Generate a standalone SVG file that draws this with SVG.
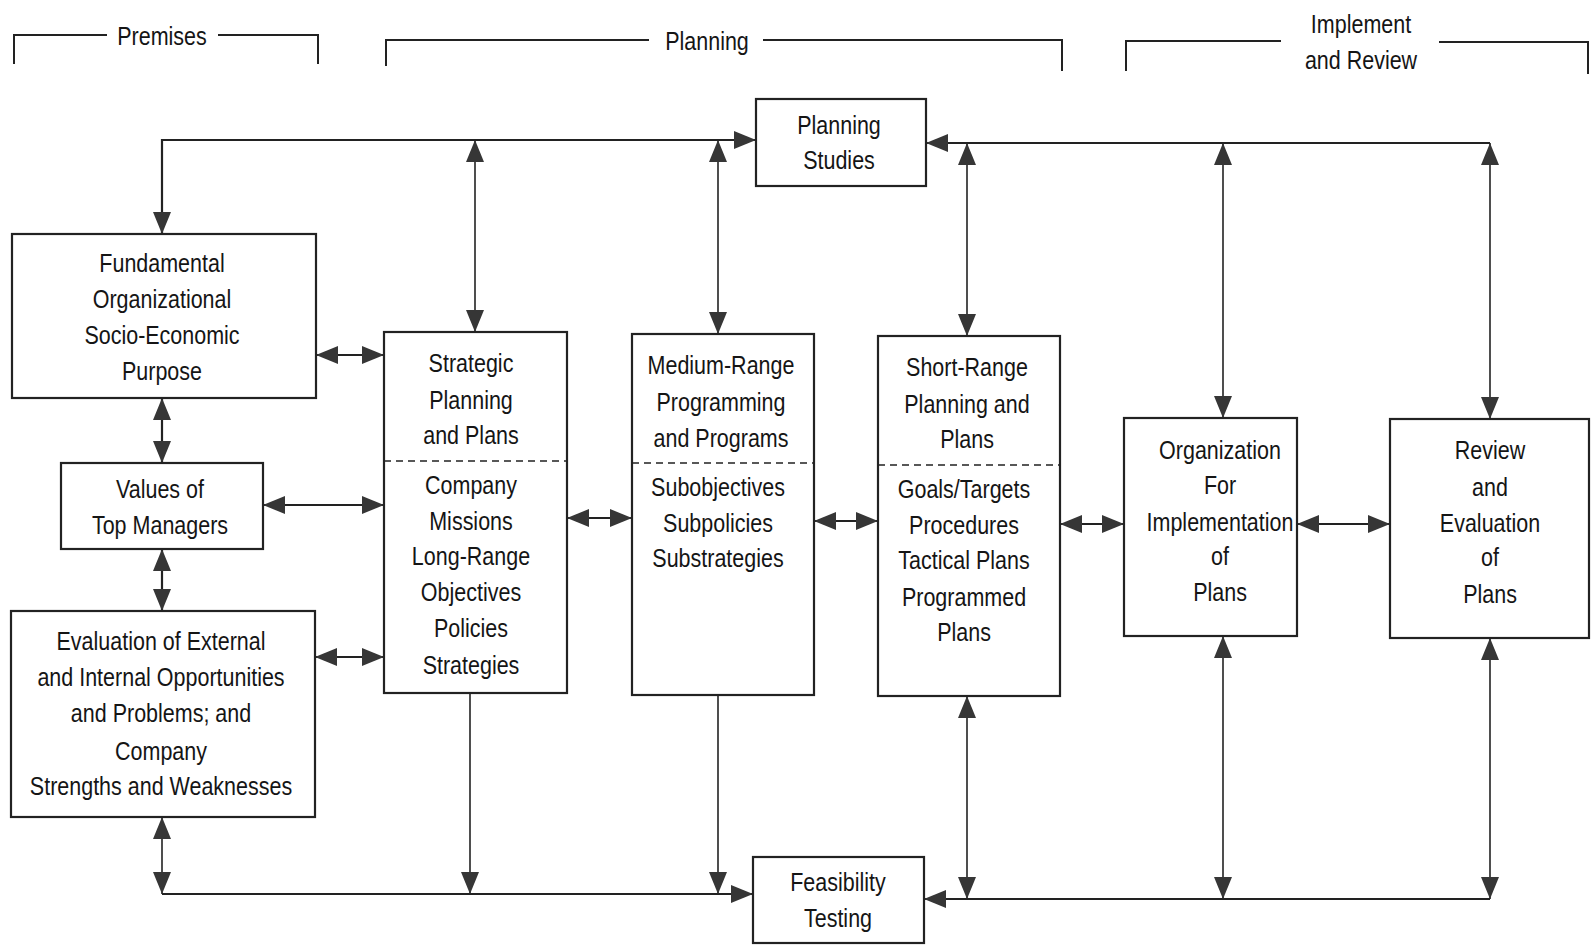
<svg xmlns="http://www.w3.org/2000/svg" width="1591" height="945" viewBox="0 0 1591 945">
<defs>
<style>
.bg{fill:#ffffff}
.box{fill:none;stroke:#222;stroke-width:2.2}
.dash{fill:none;stroke:#222;stroke-width:1.6;stroke-dasharray:7 5}
.br{fill:none;stroke:#222;stroke-width:2}
.ln{fill:none;stroke:#222;stroke-width:2.2}
.ln1{fill:none;stroke:#222;stroke-width:1.6}
text{font-family:"Liberation Sans",Arial,sans-serif;font-size:25px;fill:#151515;text-anchor:middle}
</style>
<marker id="ah" viewBox="0 0 22 18" refX="22" refY="9" markerWidth="22" markerHeight="18" markerUnits="userSpaceOnUse" orient="auto-start-reverse">
<path d="M0,0 L22,9 L0,18 z" fill="#363636"/>
</marker>
</defs>
<rect class="bg" x="0" y="0" width="1591" height="945"/>

<g id="headers">
<path class="br" d="M14,64 V35 H107"/>
<path class="br" d="M218,35 H318 V64"/>
<g transform="translate(162 0) scale(0.86 1)"><text x="0" y="45">Premises</text></g>
<path class="br" d="M386,66 V40 H649"/>
<path class="br" d="M763,40 H1062 V71"/>
<g transform="translate(707 0) scale(0.86 1)"><text x="0" y="50">Planning</text></g>
<path class="br" d="M1126,71 V41 H1281"/>
<path class="br" d="M1439,42 H1588 V74"/>
<g transform="translate(1361 0) scale(0.86 1)">
<text x="0" y="33">Implement</text>
<text x="0" y="69">and Review</text>
</g>
</g>

<g id="connectors">
<path class="ln" d="M162,234 V140 H756" marker-start="url(#ah)" marker-end="url(#ah)"/>
<path class="ln1" d="M475,140 V332" marker-start="url(#ah)" marker-end="url(#ah)"/>
<path class="ln1" d="M718,140 V334" marker-start="url(#ah)" marker-end="url(#ah)"/>
<path class="ln" d="M1490,143 H926" marker-end="url(#ah)"/>
<path class="ln1" d="M967,143 V336" marker-start="url(#ah)" marker-end="url(#ah)"/>
<path class="ln1" d="M1223,143 V418" marker-start="url(#ah)" marker-end="url(#ah)"/>
<path class="ln1" d="M1490,143 V419" marker-start="url(#ah)" marker-end="url(#ah)"/>

<path class="ln" d="M316,355 H384" marker-start="url(#ah)" marker-end="url(#ah)"/>
<path class="ln" d="M162,398 V463" marker-start="url(#ah)" marker-end="url(#ah)"/>
<path class="ln" d="M263,505 H384" marker-start="url(#ah)" marker-end="url(#ah)"/>
<path class="ln" d="M162,549 V611" marker-start="url(#ah)" marker-end="url(#ah)"/>
<path class="ln" d="M315,657 H384" marker-start="url(#ah)" marker-end="url(#ah)"/>
<path class="ln" d="M567,518 H632" marker-start="url(#ah)" marker-end="url(#ah)"/>
<path class="ln" d="M814,521 H878" marker-start="url(#ah)" marker-end="url(#ah)"/>
<path class="ln" d="M1060,524 H1124" marker-start="url(#ah)" marker-end="url(#ah)"/>
<path class="ln" d="M1297,524 H1390" marker-start="url(#ah)" marker-end="url(#ah)"/>

<path class="ln1" d="M162,817 V894" marker-start="url(#ah)" marker-end="url(#ah)"/>
<path class="ln" d="M162,894 H753" marker-end="url(#ah)"/>
<path class="ln1" d="M470,693 V894" marker-end="url(#ah)"/>
<path class="ln1" d="M718,695 V894" marker-end="url(#ah)"/>
<path class="ln" d="M1490,899 H924" marker-end="url(#ah)"/>
<path class="ln1" d="M967,696 V899" marker-start="url(#ah)" marker-end="url(#ah)"/>
<path class="ln1" d="M1223,636 V899" marker-start="url(#ah)" marker-end="url(#ah)"/>
<path class="ln1" d="M1490,638 V899" marker-start="url(#ah)" marker-end="url(#ah)"/>
</g>

<g id="planning-studies">
<rect class="box" x="756" y="99" width="170" height="87"/>
<g transform="translate(839 0) scale(0.86 1)">
<text x="0" y="134">Planning</text>
<text x="0" y="169">Studies</text>
</g>
</g>

<g id="fundamental">
<rect class="box" x="12" y="234" width="304" height="164"/>
<g transform="translate(162 0) scale(0.86 1)">
<text x="0" y="272">Fundamental</text>
<text x="0" y="308">Organizational</text>
<text x="0" y="344">Socio-Economic</text>
<text x="0" y="380">Purpose</text>
</g>
</g>

<g id="values">
<rect class="box" x="61" y="463" width="202" height="86"/>
<g transform="translate(160 0) scale(0.86 1)">
<text x="0" y="498">Values of</text>
<text x="0" y="534">Top Managers</text>
</g>
</g>

<g id="evaluation">
<rect class="box" x="11" y="611" width="304" height="206"/>
<g transform="translate(161 0) scale(0.86 1)">
<text x="0" y="650">Evaluation of External</text>
<text x="0" y="686">and Internal Opportunities</text>
<text x="0" y="722">and Problems; and</text>
<text x="0" y="760">Company</text>
<text x="0" y="795">Strengths and Weaknesses</text>
</g>
</g>

<g id="strategic">
<rect class="box" x="384" y="332" width="183" height="361"/>
<line class="dash" x1="384" y1="461" x2="567" y2="461"/>
<g transform="translate(471 0) scale(0.86 1)">
<text x="0" y="372">Strategic</text>
<text x="0" y="409">Planning</text>
<text x="0" y="444">and Plans</text>
<text x="0" y="494">Company</text>
<text x="0" y="530">Missions</text>
<text x="0" y="565">Long-Range</text>
<text x="0" y="601">Objectives</text>
<text x="0" y="637">Policies</text>
<text x="0" y="674">Strategies</text>
</g>
</g>

<g id="medium">
<rect class="box" x="632" y="334" width="182" height="361"/>
<line class="dash" x1="632" y1="463" x2="814" y2="463"/>
<g transform="translate(721 0) scale(0.86 1)">
<text x="0" y="374">Medium-Range</text>
<text x="0" y="411">Programming</text>
<text x="0" y="447">and Programs</text>
</g>
<g transform="translate(718 0) scale(0.86 1)">
<text x="0" y="496">Subobjectives</text>
<text x="0" y="532">Subpolicies</text>
<text x="0" y="567">Substrategies</text>
</g>
</g>

<g id="short">
<rect class="box" x="878" y="336" width="182" height="360"/>
<line class="dash" x1="878" y1="465" x2="1060" y2="465"/>
<g transform="translate(967 0) scale(0.86 1)">
<text x="0" y="376">Short-Range</text>
<text x="0" y="413">Planning and</text>
<text x="0" y="448">Plans</text>
</g>
<g transform="translate(964 0) scale(0.86 1)">
<text x="0" y="498">Goals/Targets</text>
<text x="0" y="534">Procedures</text>
<text x="0" y="569">Tactical Plans</text>
<text x="0" y="606">Programmed</text>
<text x="0" y="641">Plans</text>
</g>
</g>

<g id="organization">
<rect class="box" x="1124" y="418" width="173" height="218"/>
<g transform="translate(1220 0) scale(0.86 1)">
<text x="0" y="459">Organization</text>
<text x="0" y="494">For</text>
<text x="0" y="531">Implementation</text>
<text x="0" y="565">of</text>
<text x="0" y="601">Plans</text>
</g>
</g>

<g id="review">
<rect class="box" x="1390" y="419" width="199" height="219"/>
<g transform="translate(1490 0) scale(0.86 1)">
<text x="0" y="459">Review</text>
<text x="0" y="496">and</text>
<text x="0" y="532">Evaluation</text>
<text x="0" y="566">of</text>
<text x="0" y="603">Plans</text>
</g>
</g>

<g id="feasibility">
<rect class="box" x="753" y="857" width="171" height="86"/>
<g transform="translate(838 0) scale(0.86 1)">
<text x="0" y="891">Feasibility</text>
<text x="0" y="927">Testing</text>
</g>
</g>
</svg>
